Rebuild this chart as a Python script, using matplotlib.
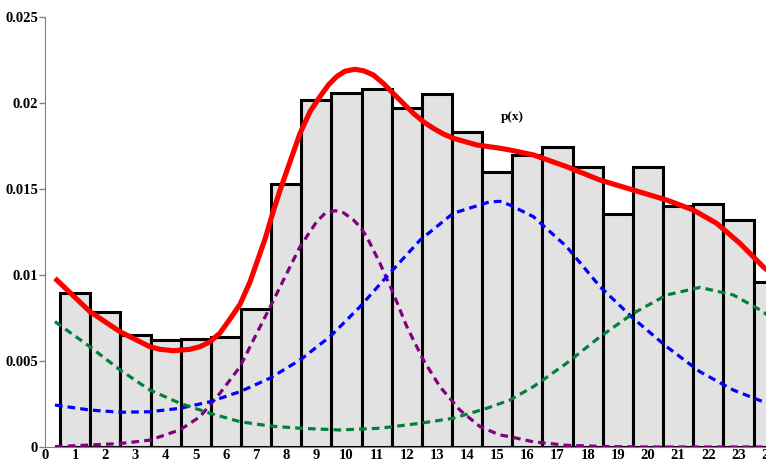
# libraries
import numpy as np
import matplotlib.pyplot as plt

# histogram (bins centred on the integers 1..24)
bins = np.arange(1, 25)
counts = [0.00895, 0.00785, 0.0065, 0.0062, 0.0063, 0.0064, 0.0080, 0.0153,
          0.0202, 0.0206, 0.0208, 0.0197, 0.0205, 0.0183, 0.0160, 0.0170,
          0.01745, 0.0163, 0.01355, 0.0163, 0.0140, 0.0141, 0.0132, 0.0096]

# mixture density p(x)
px_x = [0.33, 1.49, 2.49, 3.48, 3.81, 4.26, 4.81, 5.14, 5.47, 5.8, 6.14, 6.47,
        6.8, 7.02, 7.3, 7.57, 7.79, 8.13, 8.46, 8.79, 9.12, 9.4, 9.67, 9.95,
        10.28, 10.56, 10.89, 11.22, 11.55, 11.88, 12.22, 12.55, 12.88, 13.21,
        13.54, 14.32, 15.09, 15.42, 16.2, 17.3, 18.41, 19.51, 20.62, 21.5,
        22.28, 23.05, 23.82, 24.0]
px_y = [0.00981, 0.00787, 0.0067, 0.00583, 0.00568, 0.0056, 0.00568, 0.00583,
        0.00612, 0.00662, 0.00745, 0.0083, 0.0096, 0.0107, 0.0121, 0.0137,
        0.0149, 0.0166, 0.01824, 0.0195, 0.02037, 0.02105, 0.02153, 0.02185,
        0.02196, 0.02188, 0.02163, 0.02114, 0.02056, 0.01998, 0.0194, 0.01891,
        0.01853, 0.0182, 0.01795, 0.01756, 0.01737, 0.01727, 0.01698, 0.0163,
        0.01552, 0.01494, 0.01436, 0.01378, 0.013, 0.01184, 0.01048, 0.0102]

# components
purple_x = [0.33, 2.49, 3.48, 4.48, 5.14, 5.8, 6.47, 7.02, 7.57, 8.02, 8.46,
            8.68, 9.01, 9.29, 9.62, 9.9, 10.23, 10.45, 10.67, 11.11, 11.55,
            12.0, 12.55, 13.1, 13.76, 14.43, 15.09, 15.42, 16.2, 17.3, 18.5,
            20.0, 22.0, 24.0]
purple_y = [0.00002, 0.0002, 0.0004, 0.001, 0.00176, 0.00312, 0.00467, 0.0066,
            0.0085, 0.0101, 0.01165, 0.01223, 0.0131, 0.01359, 0.01374,
            0.01362, 0.0132, 0.0128, 0.01223, 0.01068, 0.00894, 0.007, 0.00506,
            0.0035, 0.00215, 0.00118, 0.0007, 0.0006, 0.0003, 0.0001, 0.00003,
            0.0, 0.0, 0.0]

blue_x = [0.33, 1.49, 2.49, 3.48, 4.48, 5.47, 6.47, 7.46, 8.46, 9.45, 10.45,
          11.33, 12.44, 13.54, 14.76, 15.09, 15.42, 16.2, 17.3, 18.41, 19.51,
          20.62, 21.72, 22.83, 23.82, 24.0]
blue_y = [0.00244, 0.00215, 0.00202, 0.00205, 0.00225, 0.00263, 0.00322,
          0.004, 0.00506, 0.00641, 0.00816, 0.0099, 0.01203, 0.01359, 0.01426,
          0.01428, 0.01407, 0.01339, 0.01165, 0.00932, 0.00748, 0.00583,
          0.00438, 0.00331, 0.00263, 0.00255]

green_x = [0.33, 1.49, 2.49, 3.48, 4.48, 5.47, 6.47, 7.46, 8.46, 9.78, 11.11,
           12.44, 13.54, 14.65, 15.42, 16.2, 17.3, 18.41, 19.51, 20.62, 21.72,
           22.83, 23.82, 24.0]
green_y = [0.00729, 0.00583, 0.00448, 0.00331, 0.00254, 0.00196, 0.00147,
           0.00122, 0.00109, 0.00099, 0.00109, 0.00138, 0.00167, 0.00225,
           0.00273, 0.00351, 0.00487, 0.00641, 0.00777, 0.00884, 0.00928,
           0.00884, 0.00787, 0.0076]

xticks = list(range(0, 25))
yticks = [0, 0.005, 0.01, 0.015, 0.02, 0.025]
ytick_labels = ['0', '0.005', '0.01', '0.015', '0.02', '0.025']

plt.rcParams['font.family'] = 'Liberation Serif'
plt.rcParams['font.weight'] = 'bold'

W, H = 766, 461
fig = plt.figure(figsize=(W / 100, H / 100), dpi=100)
unit = 30.15
ax = fig.add_axes([45 / W, (H - 447) / H, 25 * unit / W, 430 / H])

ax.bar(bins, counts, width=1, color='#e3e2e2', edgecolor='black',
       linewidth=2.2, zorder=2)

dash = (2.4, 1.6)
for xs, ys, c in [(purple_x, purple_y, '#800080'),
                  (blue_x, blue_y, '#0000ff'),
                  (green_x, green_y, '#00803c')]:
    ax.plot(xs, ys, color=c, lw=2.3, dashes=dash, dash_joinstyle='round',
            zorder=3)
ax.plot(px_x, px_y, color='#ff0000', lw=3.7, solid_capstyle='butt',
        solid_joinstyle='round', zorder=4)

ax.text(15.5, 0.0192, 'p(x)', fontsize=9.5, fontweight='bold',
        ha='center', va='center')

ax.set_xlim(0, 25)
ax.set_ylim(0, 0.025)
ax.set_xticks(xticks)
ax.set_xticklabels([str(t) for t in xticks])
ax.set_yticks(yticks)
ax.set_yticklabels(ytick_labels)

ax.tick_params(axis='x', length=0, pad=1.5, labelsize=10.5)
ax.tick_params(axis='y', direction='out', length=4, width=1,
               color='#808080', pad=1, labelsize=10.5)

# change the style of the axis spines
ax.spines['top'].set_color('none')
ax.spines['right'].set_color('none')
ax.spines['left'].set_color('#808080')
ax.spines['bottom'].set_color('#808080')
ax.spines['left'].set_zorder(5)

fig.savefig('out.png', dpi=100)
